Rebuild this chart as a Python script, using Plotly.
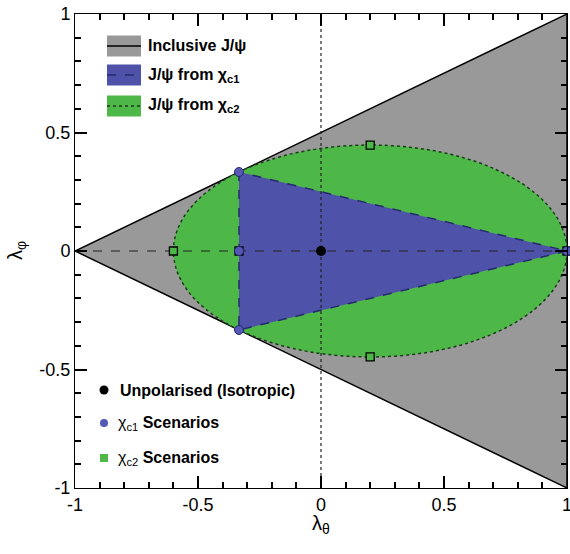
import plotly.graph_objects as go

# ---- data ----
incl_x = [-1.0, 1.0, 1.0]
incl_y = [0.0, 1.0, -1.0]
chic1_region_x = [-1/3, -1/3, 1.0]
chic1_region_y = [1/3, -1/3, 0.0]
chic2_ellipse_x = [-0.6, 1.0]
chic2_ellipse_y = [-0.447, 0.447]

unpol_x = [0.0]
unpol_y = [0.0]
chic1_pts_x = [-1/3, -1/3, -1/3, 1.0]
chic1_pts_y = [1/3, 0.0, -1/3, 0.0]
chic2_pts_x = [-0.6, -1/3, 0.2, 0.2, 1.0]
chic2_pts_y = [0.0, 0.0, 0.447, -0.447, 0.0]

tick_vals = [-1, -0.5, 0, 0.5, 1]
tick_text = ["-1", "-0.5", "0", "0.5", "1"]

GRAY = "#999999"
BLUE = "#4e52a8"
GREEN = "#4db748"
DKBLUE = "#262a6e"
DKGREEN = "#1d3d1a"
FONT = "Liberation Sans, Arial, sans-serif"


def path_from(xs, ys):
    return "M " + " L ".join(f"{x},{y}" for x, y in zip(xs, ys)) + " Z"


fig = go.Figure()

shapes = [
    dict(type="path", path=path_from(incl_x, incl_y), xref="x", yref="y",
         fillcolor=GRAY, line=dict(color="black", width=1.5), layer="below"),
    dict(type="circle", xref="x", yref="y",
         x0=chic2_ellipse_x[0], x1=chic2_ellipse_x[1],
         y0=chic2_ellipse_y[0], y1=chic2_ellipse_y[1],
         fillcolor=GREEN, line=dict(color=DKGREEN, width=1.5, dash="dot"), layer="below"),
    dict(type="path", path=path_from(chic1_region_x, chic1_region_y), xref="x", yref="y",
         fillcolor=BLUE, line=dict(color=DKBLUE, width=1.5, dash="dash"), layer="below"),
    dict(type="line", xref="x", yref="y", x0=-1, x1=1, y0=0, y1=0,
         line=dict(color="#222222", width=1.2, dash="dash"), layer="below"),
    dict(type="line", xref="x", yref="y", x0=0, x1=0, y0=-1, y1=1,
         line=dict(color="#222222", width=1.2, dash="dot"), layer="below"),
]

W, H = 570, 554
L, R, T, B = 75, 3, 14, 66
pw, ph = W - L - R, H - T - B


def px(x):
    return (x - L) / pw


def py(y):
    return 1 - (y - T) / ph


leg = [
    (GRAY, "black", "solid", 46, "<b>Inclusive J/ψ</b>"),
    (BLUE, DKBLUE, "dash", 75, "<b>J/ψ from χ<sub>c1</sub></b>"),
    (GREEN, DKGREEN, "dot", 106, "<b>J/ψ from χ<sub>c2</sub></b>"),
]
annotations = []
for fc, lc, dash, yc, txt in leg:
    shapes.append(dict(type="rect", xref="paper", yref="paper",
                       x0=px(107), x1=px(141), y0=py(yc + 10.5), y1=py(yc - 10.5),
                       fillcolor=fc, line=dict(width=0)))
    shapes.append(dict(type="line", xref="paper", yref="paper",
                       x0=px(107), x1=px(141), y0=py(yc), y1=py(yc),
                       line=dict(color=lc, width=1.5, dash=dash)))
    annotations.append(dict(xref="paper", yref="paper", x=px(146), y=py(yc),
                            xanchor="left", yanchor="middle", showarrow=False,
                            text=txt, font=dict(family=FONT, size=16, color="black")))

fig.add_trace(go.Scatter(x=chic2_pts_x, y=chic2_pts_y, mode="markers",
                         marker=dict(symbol="square", size=8, color=GREEN,
                                     line=dict(color="black", width=1.3)),
                         hoverinfo="skip", showlegend=False, cliponaxis=False))
fig.add_trace(go.Scatter(x=chic1_pts_x, y=chic1_pts_y, mode="markers",
                         marker=dict(symbol="circle", size=9, color="#5558b4",
                                     line=dict(color=DKBLUE, width=1)),
                         hoverinfo="skip", showlegend=False, cliponaxis=False))
fig.add_trace(go.Scatter(x=unpol_x, y=unpol_y, mode="markers",
                         marker=dict(symbol="circle", size=10, color="black"),
                         hoverinfo="skip", showlegend=False))
# invisible trace on an overlaying pair of axes that carries the tick marks
fig.add_trace(go.Scatter(x=unpol_x, y=unpol_y, mode="markers", xaxis="x2", yaxis="y2",
                         marker=dict(opacity=0), hoverinfo="skip", showlegend=False))

leg2 = [
    ("circle", "black", 390, "<b>Unpolarised (Isotropic)</b>", 118),
    ("circle", "#5558b4", 423, "χ<sub>c1</sub><b> Scenarios</b>", 116),
    ("square", GREEN, 458, "χ<sub>c2</sub><b> Scenarios</b>", 116),
]
for sym, col, yc, txt, tx in leg2:
    r = 4.5 if col == "black" else 4
    shapes.append(dict(type="circle" if sym == "circle" else "rect",
                       xref="paper", yref="paper",
                       x0=px(104 - r), x1=px(104 + r), y0=py(yc + r), y1=py(yc - r),
                       fillcolor=col, line=dict(width=0)))
    annotations.append(dict(xref="paper", yref="paper", x=px(tx), y=py(yc),
                            xanchor="left", yanchor="middle", showarrow=False,
                            text=txt, font=dict(family=FONT, size=16, color="black")))

annotations.append(dict(xref="paper", yref="paper", x=px(321), y=py(524),
                        xanchor="center", yanchor="middle", showarrow=False,
                        text="λ<sub>θ</sub>", font=dict(family=FONT, size=20, color="black")))
annotations.append(dict(xref="paper", yref="paper", x=px(16), y=py(251),
                        xanchor="center", yanchor="middle", showarrow=False, textangle=-90,
                        text="λ<sub>φ</sub>", font=dict(family=FONT, size=20, color="black")))

axis_common = dict(
    range=[-1, 1], tickmode="array", tickvals=tick_vals, ticktext=tick_text,
    ticks="inside", ticklen=12, tickwidth=1.5, tickcolor="black",
    minor=dict(ticks="inside", dtick=0.1, ticklen=6, tickcolor="black", tickwidth=1.5),
    showline=True, linecolor="black", mirror="allticks",
    showgrid=False, zeroline=False, automargin=False,
    ticklabeloverflow="allow",
    tickfont=dict(family=FONT, size=18, color="black"),
)

tick_axis = dict(
    range=[-1, 1], tickmode="array", tickvals=tick_vals, ticktext=tick_text,
    ticks="inside", ticklen=12, tickwidth=1.5, tickcolor="black",
    minor=dict(ticks="inside", dtick=0.1, ticklen=6, tickcolor="black", tickwidth=1.5),
    showline=True, linecolor="black", mirror="allticks",
    showgrid=False, zeroline=False, automargin=False, showticklabels=False,
)

fig.update_layout(
    width=W, height=H,
    margin=dict(l=L, r=R, t=T, b=B),
    paper_bgcolor="white", plot_bgcolor="white",
    shapes=shapes, annotations=annotations,
    xaxis=dict(**axis_common),
    yaxis=dict(**axis_common),
    xaxis2=dict(**tick_axis, overlaying="x", anchor="y2", side="bottom"),
    yaxis2=dict(**tick_axis, overlaying="y", anchor="x2", side="left"),
)

fig.write_html("out.html", config={"displayModeBar": False},
               post_script="document.body.style.margin='0px';")
